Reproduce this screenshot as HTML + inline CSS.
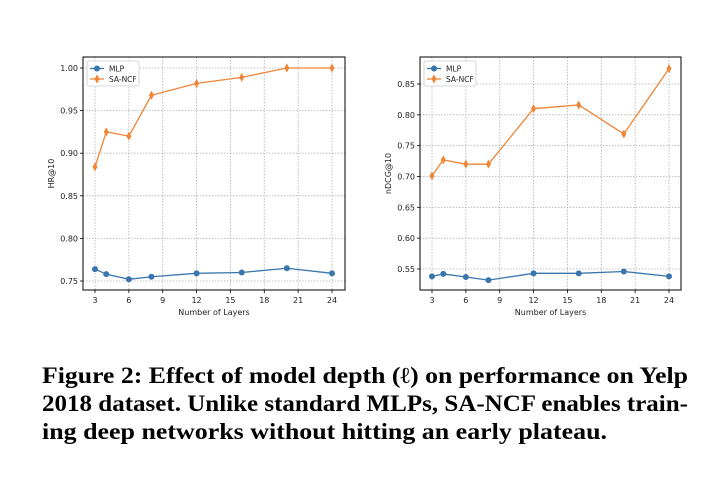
<!DOCTYPE html>
<html><head><meta charset="utf-8"><style>
body{margin:0;background:#fff;width:724px;height:482px;overflow:hidden}
svg{display:block;font-family:"DejaVu Sans","Liberation Sans",sans-serif}
</style></head><body>
<svg id="fig" width="724" height="482">
<text x="42" y="383" font-family="Liberation Serif,serif" font-weight="bold" font-size="23" textLength="646" lengthAdjust="spacingAndGlyphs">Figure 2: Effect of model depth (ℓ) on performance on Yelp</text>
<text x="42" y="411" font-family="Liberation Serif,serif" font-weight="bold" font-size="23" textLength="646" lengthAdjust="spacingAndGlyphs">2018 dataset. Unlike standard MLPs, SA-NCF enables train-</text>
<text x="42" y="439" font-family="Liberation Serif,serif" font-weight="bold" font-size="23" textLength="565" lengthAdjust="spacingAndGlyphs">ing deep networks without hitting an early plateau.</text>
</svg>
<script>
const layers=[3,4,6,8,12,16,20,24];
const xTicks=[3,6,9,12,15,18,21,24];
const hrMLP=[0.764,0.758,0.752,0.755,0.759,0.760,0.765,0.759];
const hrSA=[0.884,0.925,0.920,0.968,0.982,0.989,1.000,1.000];
const hrTicks=[0.75,0.80,0.85,0.90,0.95,1.00];
const ndMLP=[0.538,0.542,0.537,0.532,0.543,0.543,0.546,0.538];
const ndSA=[0.701,0.727,0.720,0.720,0.810,0.816,0.769,0.875];
const ndTicks=[0.55,0.60,0.65,0.70,0.75,0.80,0.85];
const svg=document.getElementById('fig');
const NS='http://www.w3.org/2000/svg';
function mk(tag,attrs,parent){const e=document.createElementNS(NS,tag);for(const k in attrs)e.setAttribute(k,attrs[k]);(parent||svg).appendChild(e);return e;}
function chart(cfg){
  const g=mk('g',{});
  
  
  const X=v=>cfg.x3+(v-3)*(cfg.x24-cfg.x3)/21;
  const Y=v=>cfg.ya+(v-cfg.va)*(cfg.yb-cfg.ya)/(cfg.vb-cfg.va);
  xTicks.forEach(t=>{
    mk('line',{x1:X(t),x2:X(t),y1:cfg.top,y2:cfg.bot,stroke:'#b0b0b0','stroke-width':0.8,'stroke-dasharray':'1.5,1.5'},g);
    mk('line',{x1:X(t),x2:X(t),y1:cfg.bot,y2:cfg.bot+3,stroke:'#000','stroke-width':0.8},g);
    const tx=mk('text',{x:X(t),y:cfg.bot+13,'font-size':8,'text-anchor':'middle',fill:'#222'},g);
    tx.textContent=t;
    
    
  });
  cfg.ticks.forEach(t=>{
    mk('line',{x1:cfg.left,x2:cfg.right,y1:Y(t),y2:Y(t),stroke:'#b0b0b0','stroke-width':0.8,'stroke-dasharray':'1.5,1.5'},g);
    mk('line',{x1:cfg.left-3,x2:cfg.left,y1:Y(t),y2:Y(t),stroke:'#000','stroke-width':0.8},g);
    const tx=mk('text',{x:cfg.left-5,y:Y(t)+3,'font-size':8,'text-anchor':'end',fill:'#222'},g);
    tx.textContent=t.toFixed(2);
    
    
  });
  mk('rect',{x:cfg.left,y:cfg.top,width:cfg.right-cfg.left,height:cfg.bot-cfg.top,fill:'none',stroke:'#000','stroke-width':1},g);
  const xl=mk('text',{x:(cfg.left+cfg.right)/2,y:cfg.bot+25,'font-size':8,'text-anchor':'middle',fill:'#222'},g);
  xl.textContent='Number of Layers';
  
  
  const yx=cfg.left-29, yy=(cfg.top+cfg.bot)/2;
  const yl=mk('text',{x:yx,y:yy,'font-size':8,'text-anchor':'middle',fill:'#222',transform:`rotate(-90 ${yx} ${yy})`},g);
  yl.textContent=cfg.ylabel;
  
  
  [[cfg.mlp,'#3a76ae','circle','mlp-line'],[cfg.sa,'#ef8536','diamond','sa-ncf-line']].forEach(([vals,col,shape,nm])=>{
    const pl=mk('polyline',{points:vals.map((v,i)=>X(layers[i])+','+Y(v)).join(' '),fill:'none',stroke:col,'stroke-width':1.3},g);
    
    
    vals.forEach((v,i)=>{
      const cx=X(layers[i]),cy=Y(v);
      let m;
      if(shape==='circle')m=mk('circle',{cx:cx,cy:cy,r:3,fill:col},g);
      else m=mk('polygon',{points:`${cx},${cy-4.5} ${cx+2.5},${cy} ${cx},${cy+4.5} ${cx-2.5},${cy}`,fill:col},g);
      
      
    });
  });
  const lg=mk('g',{},g);
  
  
  const lx=cfg.left+4,ly=cfg.top+4;
  mk('rect',{x:lx,y:ly,width:52,height:25,fill:'#fff',stroke:'#ccc','stroke-width':0.8,rx:2},lg);
  mk('line',{x1:lx+3,x2:lx+17,y1:ly+7.5,y2:ly+7.5,stroke:'#3a76ae','stroke-width':1.3},lg);
  mk('circle',{cx:lx+10,cy:ly+7.5,r:3,fill:'#3a76ae'},lg);
  mk('line',{x1:lx+3,x2:lx+17,y1:ly+18,y2:ly+18,stroke:'#ef8536','stroke-width':1.3},lg);
  mk('polygon',{points:`${lx+10},${ly+13.5} ${lx+12.5},${ly+18} ${lx+10},${ly+22.5} ${lx+7.5},${ly+18}`,fill:'#ef8536'},lg);
  const t1=mk('text',{x:lx+22,y:ly+10.5,'font-size':7.5,fill:'#222'},lg);t1.textContent='MLP';
  
  
  const t2=mk('text',{x:lx+22,y:ly+21,'font-size':7.5,fill:'#222'},lg);t2.textContent='SA-NCF';
  
  
}
chart({name:'hr-chart',left:83,right:345,top:57,bot:290,x3:95,x24:332,ya:68,va:1.00,yb:281,vb:0.75,ticks:hrTicks,mlp:hrMLP,sa:hrSA,ylabel:'HR@10'});
chart({name:'ndcg-chart',left:420,right:681,top:57,bot:290,x3:432,x24:669,ya:84,va:0.85,yb:269,vb:0.55,ticks:ndTicks,mlp:ndMLP,sa:ndSA,ylabel:'nDCG@10'});
</script>
</body></html>
